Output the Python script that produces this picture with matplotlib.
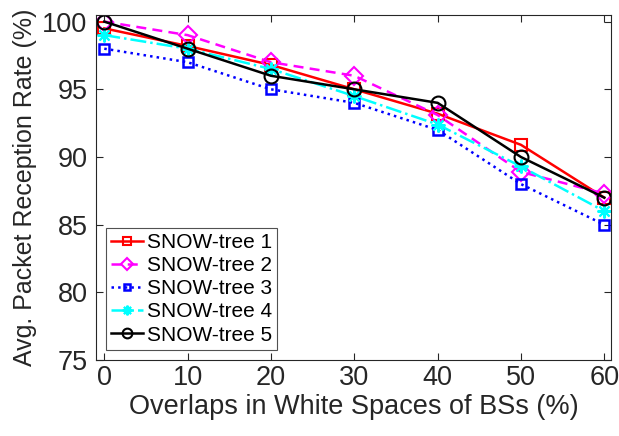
import matplotlib
matplotlib.use('Agg')
from matplotlib import pyplot as plt

overlaps = [0, 10, 20, 30, 40, 50, 60]
tree1 = [99.5, 98.2, 96.8, 95.0, 93.2, 90.9, 87.0]
tree2 = [100.0, 99.0, 97.0, 96.0, 93.1, 88.9, 87.3]
tree3 = [98.0, 97.0, 95.0, 94.0, 92.0, 88.0, 85.0]
tree4 = [99.0, 98.0, 96.5, 94.5, 92.4, 89.3, 86.0]
tree5 = [100.0, 98.0, 96.0, 95.0, 94.0, 90.0, 87.0]

plt.rcParams['font.family'] = ['Liberation Sans', 'DejaVu Sans']

fig = plt.figure(figsize=(6.19, 4.36), dpi=100)
ax = fig.add_axes([0.155, 0.174, 0.832, 0.792])

asterisk = (8, 2, 0)
ax.plot(overlaps, tree1, color='red', ls='-', lw=1.8, marker='s', ms=8, mfc='none', mew=1.5, label='SNOW-tree 1')
ax.plot(overlaps, tree2, color='magenta', ls=(0, (4, 2.5)), lw=1.8, marker='D', ms=9, mfc='none', mew=1.5, label='SNOW-tree 2')
ax.plot(overlaps, tree3, color='blue', ls=':', lw=1.8, marker='s', ms=7, mfc='none', mew=1.8, label='SNOW-tree 3')
ax.plot(overlaps, tree4, color='cyan', ls='-.', lw=1.8, marker=asterisk, ms=10, mew=1.5, label='SNOW-tree 4')
ax.plot(overlaps, tree5, color='black', ls='-', lw=1.8, marker='o', ms=10, mfc='none', mew=1.5, label='SNOW-tree 5')

ax.set_xlim(-1, 60.8)
ax.set_ylim(75, 100.5)
ax.set_xticks(overlaps)
ax.set_yticks([75, 80, 85, 90, 95, 100])
ax.tick_params(direction='in', top=True, right=True, labelsize=19.5, length=5, colors='#262626')
ax.tick_params(axis='y', pad=6)
for s in ax.spines.values():
    s.set_color('#262626')
    s.set_linewidth(0.8)

ax.set_xlabel('Overlaps in White Spaces of BSs (%)', fontsize=19.5, color='#262626', labelpad=2)
ax.set_ylabel('Avg. Packet Reception Rate (%)', fontsize=18, color='#262626', labelpad=4)

leg = ax.legend(loc='lower left', bbox_to_anchor=(0.02, 0.03), fontsize=15, fancybox=False,
                edgecolor='#262626', handlelength=1.5, handletextpad=0.2, borderpad=0.25,
                labelspacing=0.2, borderaxespad=0, markerscale=0.7)
leg.get_frame().set_linewidth(0.8)

plt.savefig('out.png', dpi=100)
